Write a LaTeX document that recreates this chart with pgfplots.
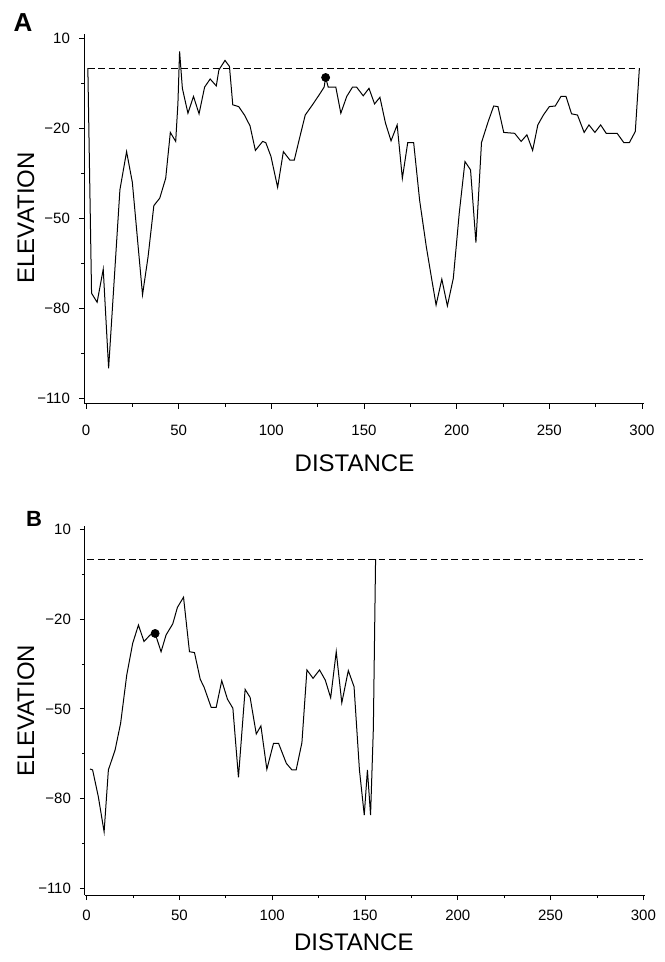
\documentclass[border=0pt]{standalone}
\usepackage{fontspec}
\setmainfont{Liberation Sans}
\usepackage{pgfplots}
\pgfplotsset{compat=1.18}

% sea level and the two profiles
\pgfplotstableread{
x y
1 0
3 -75
6 -78
9.3 -67
12.2 -100
18.3 -40.5
21.9 -27.8
25 -38
30.5 -75.5
33.5 -62.8
36.6 -45.8
39.8 -43.3
43 -36.7
45.5 -21.4
48.4 -24.4
49.6 -11.7
50.5 5.6
52 -6.7
55 -15
58 -9.4
61 -15.2
64 -6.3
67 -3.6
70.3 -5.9
71.7 -0.6
75 2.6
77.4 0.6
79.2 -12.2
82.4 -12.8
85.5 -15.6
88.5 -19.2
91.4 -27.4
95.3 -24.4
97 -24.8
99.8 -29.4
103.4 -39.7
106.5 -27.8
110 -30.6
112.4 -30.6
115 -23.9
118.3 -15.6
122.2 -12.2
125.8 -8.9
128.5 -6.3
129.3 -3.1
130.7 -6.3
134.8 -6.3
137.5 -15
140.7 -9.4
143.8 -6.3
146 -6.3
149.6 -9.2
152.7 -6.7
155.7 -11.9
158.6 -9.7
161.6 -18.3
164.6 -24.2
167.9 -18.9
170.7 -36.7
173.6 -24.8
176.8 -24.8
180 -43.9
183.6 -59.4
186 -68.3
188.9 -78.9
192 -70.3
195 -79.2
198.2 -70
201.4 -48.3
204.5 -31.1
207.5 -33.9
210.4 -58.1
213.4 -24.8
217 -17.8
220 -12.6
222.3 -12.8
225.4 -21.4
231.3 -21.7
234.8 -24.4
237.9 -22.2
241 -27.4
243.8 -18.9
246.8 -15.6
250 -12.8
253.2 -12.6
256.3 -9.4
259 -9.4
262 -15.2
265.2 -15.6
268.8 -21.4
271.4 -18.9
274.6 -21.4
277.7 -18.9
280.7 -21.7
286.6 -21.7
290.2 -24.8
293.2 -24.8
296.4 -21.1
298.6 0
}\profileA

\pgfplotstableread{
x y
1.8 -70.1
3.2 -70.4
6.3 -79.4
9.4 -91.1
11.7 -70.4
15.3 -63.8
18.3 -54.8
21.6 -38.7
24.8 -28.1
27.9 -22
30.9 -27.5
34.2 -25.3
36.9 -24.8
40.1 -30.9
42.8 -25.3
46.4 -21.6
48.9 -16.1
52.2 -12.7
55.4 -30.9
58.1 -31.2
61.2 -40.1
63.3 -42.8
67.1 -49.5
69.8 -49.5
72.8 -40.6
75.9 -46.8
78.8 -49.8
81.8 -72.9
85.4 -43.5
88.1 -46.2
91.4 -58.4
93.9 -55.7
97.1 -70.2
100.7 -61.5
103.4 -61.5
107.6 -68.2
110.6 -70.4
112.9 -70.4
116 -61.3
118.7 -37
122 -39.8
125.5 -37
128.6 -40.4
131.5 -46.3
134.5 -30.9
137.5 -48
141 -37.2
144.1 -42.6
147 -70.4
149.6 -85.5
151.3 -70.4
153 -85.5
154.5 -56.5
155.7 0
}\profileB

\pgfplotsset{
  profile/.style={
    scale only axis,
    width=280pt,
    axis x line*=bottom,
    axis y line*=left,
    axis line style={line width=0.5pt},
    xtick={0,50,...,300},
    minor xtick={25,75,...,275},
    ytick={-110,-80,-50,-20,10},
    yticklabels={−110,−80,−50,−20,10},
    minor ytick={-95,-65,-35,-5},
    tick align=outside,
    major tick length=2.5pt,
    minor tick length=1.5pt,
    tick style={line width=0.4pt, black},
    /pgf/number format/assume math mode=true,
    ticklabel style={font=\fontsize{7.5}{9}\selectfont},
    label style={font=\fontsize{12}{14}\selectfont},
    xlabel={DISTANCE},
    ylabel={ELEVATION},
    clip=false,
  },
  sealevel/.style={black, line width=0.45pt, dash pattern=on 3.4pt off 1.8pt},
  prof/.style={black, line width=0.5pt},
}

\begin{document}
\begin{tikzpicture}
\useasboundingbox (-42pt,202pt) rectangle (290pt,-279pt);

% panel A
\begin{axis}[profile,
  at={(0pt,0pt)}, anchor=south west,
  height=185pt,
  xmin=-1.08, xmax=301.1, ymin=-111.9, ymax=11.4,
  xticklabel style={yshift=-4.5pt},
  yticklabel style={xshift=-1pt},
  xlabel style={at={(axis description cs:0.483,0)}, anchor=center, yshift=-29.5pt},
  ylabel style={at={(axis description cs:-0.1036,0.503)}, anchor=center},
]
\addplot[sealevel] coordinates {(1,0) (298.6,0)};
\addplot[prof] table[x=x,y=y] {\profileA};
\addplot[only marks, mark=*, mark size=2pt, black] coordinates {(129.3,-3.1)};
\end{axis}
\node[font=\bfseries\fontsize{13}{15}\selectfont] at (-30.5pt,190.5pt) {A};

% panel B
\begin{axis}[profile,
  at={(0.5pt,-245.5pt)}, anchor=south west,
  height=184.5pt,
  xmin=-0.9, xmax=300.9, ymin=-112.2, ymax=11.1,
  xticklabel style={yshift=-1.5pt},
  yticklabel style={xshift=-1pt},
  xlabel style={at={(axis description cs:0.48,0)}, anchor=center, yshift=-23.5pt},
  ylabel style={at={(axis description cs:-0.1054,0.50)}, anchor=center},
]
\addplot[sealevel] coordinates {(0.4,0) (300,0)};
\addplot[prof] table[x=x,y=y] {\profileB};
\addplot[only marks, mark=*, mark size=2pt, black] coordinates {(36.9,-24.8)};
\end{axis}
\node[font=\bfseries\fontsize{11}{13}\selectfont] at (-25pt,-57.5pt) {B};
\end{tikzpicture}
\end{document}
